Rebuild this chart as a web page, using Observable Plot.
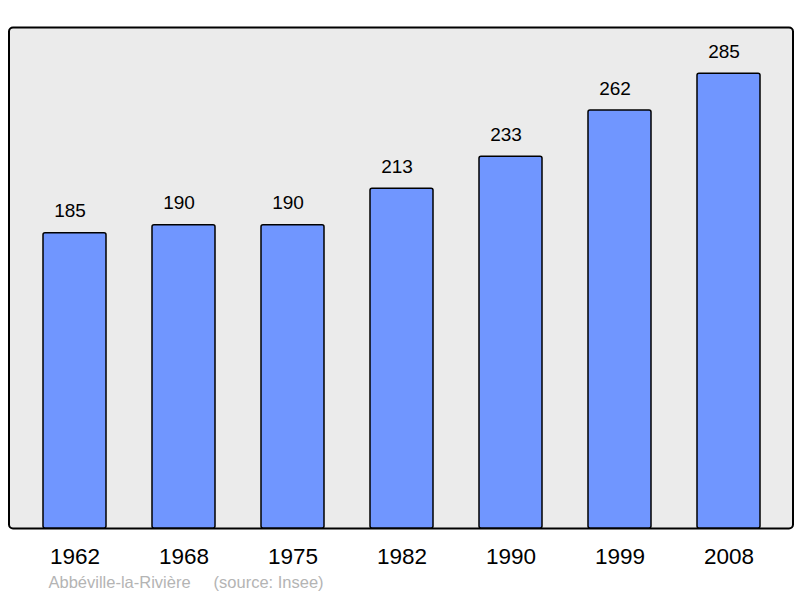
<!DOCTYPE html>
<html>
<head>
<meta charset="utf-8">
<script src="https://cdn.jsdelivr.net/npm/d3@7"></script>
<script src="https://cdn.jsdelivr.net/npm/@observablehq/plot@0.6"></script>
<style>
html, body { margin: 0; padding: 0; background: #fff; }
</style>
</head>
<body>
<div id="chart"></div>
<script>
const years = ["1962", "1968", "1975", "1982", "1990", "1999", "2008"];
const population = [185, 190, 190, 213, 233, 262, 285];
const caption = "Abbéville-la-Rivière\u00a0\u00a0\u00a0\u00a0\u00a0(source: Insee)";

const data = years.map((y, i) => ({year: y, value: population[i]}));

const chart = Plot.plot({
  width: 800,
  height: 598,
  marginLeft: 41,
  marginRight: 38,
  marginTop: 27,
  marginBottom: 70,
  style: {fontFamily: "'Liberation Sans', Arial, sans-serif", background: "#fff", color: "#000"},
  x: {domain: years, paddingInner: 0.424, paddingOuter: 0, label: null},
  y: {domain: [0, 314], axis: null},
  marks: [
    Plot.frame({fill: "#ebebeb", stroke: "#000", strokeWidth: 2, rx: 4,
      insetLeft: -32.5, insetRight: -30.5, insetTop: 0, insetBottom: 0}),
    Plot.barY(data, {x: "year", y: "value", fill: "#7096ff", stroke: "#000", strokeWidth: 1.5, rx: 2}),
    Plot.text(data, {x: "year", y: "value", text: d => String(d.value), dy: -22, dx: -5, fontSize: 19, fill: "#000"}),
    Plot.axisX({tickSize: 0, tickPadding: 20, fontSize: 22.5, fill: "#000", label: null}),
    Plot.text([caption], {frameAnchor: "bottom-left", dx: 7, dy: 59, textAnchor: "start", fontSize: 16.5, fill: "#b4b4b4"})
  ]
});
document.getElementById("chart").appendChild(chart);
</script>
</body>
</html>
